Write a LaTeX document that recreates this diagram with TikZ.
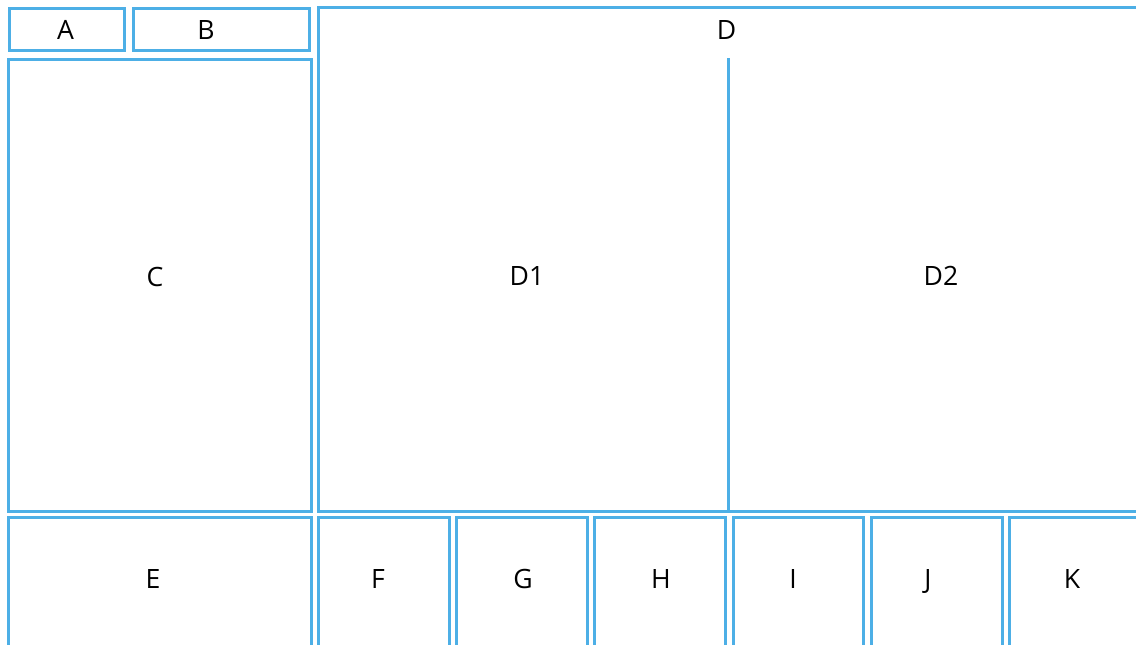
\documentclass[tikz,border=0pt]{standalone}
\usepackage{fontspec}
\setmainfont{Open Sans}
\usetikzlibrary{positioning}
\definecolor{cellblue}{HTML}{4DAFE6}
\newcommand{\px}{0.5pt}

\begin{document}
\begin{tikzpicture}[
    x=0.5pt, y=-0.5pt,
    cell/.style={rectangle, draw=cellblue, line width=1.5pt, inner sep=0pt},
    lbl/.style={font=\fontsize{13.3}{16}\selectfont, text height=9.5pt, text depth=0pt, inner sep=0pt}
]
\useasboundingbox (0,0) rectangle (1136,644);
\fill[white] (0,0) rectangle (1136,644);
\clip (0,0) rectangle (1136,644);

% top-left row
\node[cell, minimum width=115*\px, minimum height=42.6*\px] (a) at (67, 29.5) {};
\node[cell, minimum width=176*\px, minimum height=42.6*\px] (b) at (221.5, 29.5) {};
% left column
\node[cell, minimum width=303*\px, minimum height=451.5*\px] (c) at (160, 285.25) {};
% main area
\node[cell, minimum width=820*\px, minimum height=504*\px] (d) at (728.5, 259) {};
\coordinate (split top) at (728, 58);
\draw[draw=cellblue, line width=1.5pt] (split top) -- (split top |- d.south);
% bottom row
\node[cell, minimum width=303*\px, minimum height=150*\px] (e) at (160, 592) {};
\node[cell, minimum width=131*\px, minimum height=150*\px] (f) at (384, 592) {};
\node[cell, minimum width=130.5*\px, minimum height=150*\px] (g) at (521.75, 592) {};
\node[cell, minimum width=131*\px, minimum height=150*\px] (h) at (660, 592) {};
\node[cell, minimum width=130.5*\px, minimum height=150*\px] (i) at (798.25, 592) {};
\node[cell, minimum width=130.5*\px, minimum height=150*\px] (j) at (936.75, 592) {};
\node[cell, minimum width=131*\px, minimum height=150*\px] (k) at (1075, 592) {};

% labels
\node[lbl] (la) at (65.5, 30) {A};
\node[lbl] (lb) at (206, 30) {B};
\node[lbl] (ld) at (726.5, 29.5) {D};
\node[lbl] (lc) at (155, 277) {C};
\node[lbl] (ld1) at (527, 276) {D1};
\node[lbl] (ld2) at (941, 276) {D2};
\node[lbl] (le) at (153, 579) {E};
\node[lbl] (lf) at (378, 579) {F};
\node[lbl] (lg) at (523, 579) {G};
\node[lbl] (lh) at (661, 579) {H};
\node[lbl] (li) at (793, 579) {I};
\node[lbl] (lj) at (928, 579) {J};
\node[lbl] (lk) at (1072, 579) {K};
\end{tikzpicture}
\end{document}
